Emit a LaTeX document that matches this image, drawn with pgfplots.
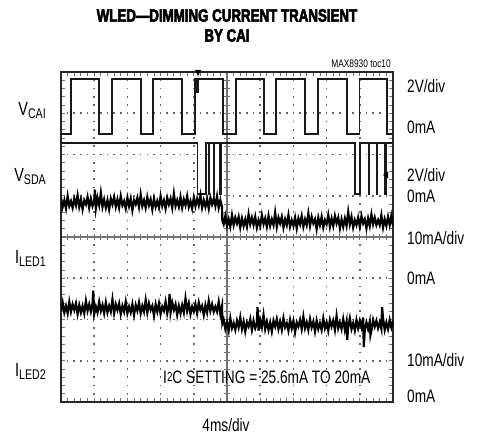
\documentclass[border=0pt]{standalone}
\usepackage{fontspec}
\setmainfont{Liberation Sans}[FakeStretch=0.76]
\newfontfamily\titlefont{Liberation Sans Bold}[FakeStretch=0.74,FakeBold=3]
\usepackage{pgfplots}
\pgfplotsset{compat=1.18}
\begin{document}
\begin{tikzpicture}[x=1bp,y=1bp,
  lab/.style={inner sep=0pt,font=\fontsize{18bp}{20bp}\selectfont},
  side/.style={inner sep=0pt,anchor=base east}]
\useasboundingbox (-61,-33) rectangle (418,402);
% graticule (dotted)
\foreach \i in {1,...,9}{\draw[black!60,line width=1.6bp,dash pattern=on 1.6bp off 6.65bp,dash phase=0.8bp] (\i*33.2,0) -- (\i*33.2,330);}
\foreach \j in {1,...,7}{\draw[black!60,line width=1.6bp,dash pattern=on 1.6bp off 5.04bp,dash phase=0.8bp] (0,\j*41.25) -- (332,\j*41.25);}
% centre lines with minor ticks
\draw[black!55,line width=1.1bp] (166,0)--(166,330);
\draw[black!55,line width=1.1bp] (0,165)--(332,165);
\foreach \k in {1,...,39}{\draw[black!55,line width=0.9bp] (163,\k*8.25)--(169,\k*8.25);
  \draw[black!55,line width=0.9bp] (0,\k*8.25)--(4,\k*8.25);
  \draw[black!55,line width=0.9bp] (328,\k*8.25)--(332,\k*8.25);}
\foreach \k in {1,...,49}{\draw[black!55,line width=0.9bp] (\k*6.64,162)--(\k*6.64,168);
  \draw[black!55,line width=0.9bp] (\k*6.64,0)--(\k*6.64,4);
  \draw[black!55,line width=0.9bp] (\k*6.64,326)--(\k*6.64,330);}
\begin{axis}[at={(0,0)},anchor=south west,scale only axis,width=332bp,height=330bp,
  xmin=0,xmax=10,ymin=0,ymax=8,ticks=none,
  axis line style={line width=2.6bp,black!85}]
% V_CAI
\addplot[black!90,line width=1.9bp,line join=miter] coordinates {(0,6.50)(0.30,6.50)(0.30,7.82)(1.15,7.82)(1.15,6.50)(1.53,6.50)(1.53,7.82)(2.40,7.82)(2.40,6.50)(2.78,6.50)(2.78,7.82)(3.65,7.82)(3.65,6.50)(4.04,6.50)(4.04,7.82)(4.09,7.82)(4.09,7.52)(4.14,7.52)(4.14,7.82)(4.88,7.82)(4.88,6.50)(5.26,6.50)(5.26,7.82)(6.11,7.82)(6.11,6.50)(6.48,6.50)(6.48,7.82)(7.35,7.82)(7.35,6.50)(7.75,6.50)(7.75,7.82)(8.61,7.82)(8.61,6.50)(8.99,6.50)(8.99,7.82)(9.83,7.82)(9.83,6.50)(10,6.50)};
% V_SDA
\addplot[black!90,line width=1.7bp,line join=miter] coordinates {(0,6.28)(4.11,6.28)(4.11,5.05)(4.37,5.05)(4.37,6.28)(4.44,6.28)(4.44,5.05)(4.46,5.05)(4.46,6.28)(4.59,6.28)(4.59,5.05)(4.61,5.05)(4.61,6.28)(4.79,6.28)(4.79,5.05)(4.81,5.05)(4.81,6.28)(8.86,6.28)(8.86,5.05)(9.00,5.05)(9.00,6.28)(9.26,6.28)(9.26,5.05)(9.28,5.05)(9.28,6.28)(9.51,6.28)(9.51,5.05)(9.53,5.05)(9.53,6.28)(9.76,6.28)(9.76,5.05)(9.78,5.05)(9.78,6.28)(10,6.28)};
% I_LED1
\addplot[black,line width=2.2bp] coordinates {(0.00,4.95)(0.05,4.73)(0.10,4.89)(0.15,4.69)(0.20,4.99)(0.25,4.75)(0.30,4.87)(0.35,4.71)(0.40,4.93)(0.45,4.77)(0.50,5.01)(0.55,4.73)(0.60,4.91)(0.65,4.67)(0.70,4.89)(0.75,4.79)(0.80,4.97)(0.85,4.71)(0.90,4.93)(0.95,4.75)(1.00,4.87)(1.02,5.15)(1.05,4.69)(1.10,4.95)(1.15,4.77)(1.20,5.07)(1.25,4.73)(1.30,4.91)(1.35,4.71)(1.40,4.89)(1.45,4.67)(1.50,4.93)(1.55,4.79)(1.60,4.97)(1.65,4.73)(1.70,4.91)(1.75,4.71)(1.80,4.99)(1.85,4.77)(1.90,4.87)(1.95,4.69)(2.00,4.95)(2.05,4.75)(2.10,4.93)(2.15,4.65)(2.20,4.89)(2.25,4.79)(2.30,4.95)(2.35,4.73)(2.40,5.03)(2.45,4.75)(2.50,4.89)(2.55,4.71)(2.60,4.97)(2.65,4.77)(2.70,4.91)(2.75,4.67)(2.80,4.93)(2.85,4.73)(2.90,4.87)(2.95,4.71)(3.00,4.99)(3.05,4.75)(3.10,4.89)(3.15,4.69)(3.20,4.95)(3.25,4.79)(3.30,4.93)(3.35,4.71)(3.40,5.05)(3.45,4.75)(3.50,4.89)(3.55,4.73)(3.60,4.97)(3.65,4.71)(3.70,4.91)(3.75,4.77)(3.80,4.99)(3.85,4.73)(3.90,4.87)(3.95,4.69)(4.00,4.95)(4.05,4.75)(4.10,4.93)(4.15,4.77)(4.20,5.01)(4.25,4.71)(4.30,4.89)(4.35,4.73)(4.40,4.91)(4.45,4.69)(4.50,4.95)(4.55,4.79)(4.60,4.93)(4.65,4.75)(4.70,4.99)(4.75,4.71)(4.80,4.89)(4.85,4.73)(4.86,4.40)(4.90,4.31)(4.95,4.51)(5.00,4.27)(5.05,4.43)(5.10,4.25)(5.15,4.53)(5.20,4.29)(5.25,4.47)(5.30,4.33)(5.35,4.49)(5.40,4.23)(5.45,4.45)(5.50,4.27)(5.55,4.43)(5.60,4.25)(5.65,4.55)(5.70,4.31)(5.75,4.47)(5.80,4.29)(5.85,4.49)(5.90,4.23)(5.95,4.41)(6.00,4.27)(6.05,4.53)(6.10,4.31)(6.15,4.45)(6.20,4.25)(6.25,4.51)(6.30,4.27)(6.35,4.43)(6.40,4.29)(6.45,4.59)(6.50,4.25)(6.55,4.47)(6.60,4.33)(6.65,4.49)(6.70,4.23)(6.75,4.43)(6.80,4.29)(6.85,4.53)(6.90,4.25)(6.95,4.41)(7.00,4.27)(7.05,4.47)(7.10,4.21)(7.15,4.45)(7.20,4.31)(7.25,4.51)(7.30,4.25)(7.35,4.43)(7.40,4.29)(7.45,4.57)(7.50,4.27)(7.55,4.49)(7.60,4.33)(7.65,4.43)(7.70,4.19)(7.75,4.47)(7.80,4.29)(7.85,4.49)(7.90,4.23)(7.95,4.41)(8.00,4.31)(8.05,4.53)(8.10,4.25)(8.15,4.45)(8.20,4.27)(8.25,4.51)(8.30,4.33)(8.35,4.47)(8.40,4.21)(8.45,4.43)(8.50,4.25)(8.55,4.45)(8.60,4.27)(8.65,4.61)(8.70,4.31)(8.75,4.49)(8.80,4.23)(8.85,4.41)(8.90,4.29)(8.95,4.47)(9.00,4.25)(9.05,4.51)(9.10,4.33)(9.15,4.43)(9.20,4.21)(9.25,4.45)(9.30,4.27)(9.35,4.55)(9.40,4.31)(9.45,4.47)(9.50,4.29)(9.55,4.41)(9.60,4.29)(9.65,4.53)(9.70,4.23)(9.75,4.43)(9.80,4.27)(9.85,4.49)(9.90,4.29)(9.95,4.51)(10.00,4.27)};
% I_LED2
\addplot[black,line width=2.2bp] coordinates {(0.00,2.21)(0.05,2.41)(0.10,2.17)(0.15,2.33)(0.20,2.15)(0.25,2.43)(0.30,2.19)(0.35,2.37)(0.40,2.23)(0.45,2.39)(0.50,2.13)(0.55,2.35)(0.60,2.17)(0.65,2.33)(0.70,2.15)(0.75,2.45)(0.80,2.21)(0.85,2.37)(0.90,2.19)(0.95,2.39)(0.97,2.70)(1.00,2.13)(1.05,2.31)(1.10,2.17)(1.15,2.43)(1.20,2.21)(1.25,2.35)(1.30,2.15)(1.35,2.41)(1.40,2.17)(1.45,2.33)(1.50,2.19)(1.55,2.49)(1.60,2.15)(1.65,2.37)(1.70,2.23)(1.75,2.39)(1.80,2.13)(1.85,2.33)(1.90,2.19)(1.95,2.43)(2.00,2.15)(2.05,2.31)(2.10,2.17)(2.15,2.37)(2.20,2.11)(2.25,2.35)(2.30,2.21)(2.35,2.41)(2.40,2.15)(2.45,2.33)(2.50,2.19)(2.55,2.47)(2.60,2.17)(2.65,2.39)(2.70,2.23)(2.75,2.33)(2.80,2.09)(2.85,2.37)(2.90,2.19)(2.95,2.39)(3.00,2.13)(3.05,2.31)(3.10,2.21)(3.15,2.43)(3.20,2.15)(3.25,2.35)(3.27,2.62)(3.30,2.17)(3.35,2.41)(3.40,2.23)(3.45,2.37)(3.50,2.11)(3.55,2.33)(3.60,2.15)(3.65,2.35)(3.70,2.17)(3.75,2.51)(3.80,2.21)(3.85,2.39)(3.90,2.13)(3.95,2.31)(4.00,2.19)(4.05,2.37)(4.10,2.15)(4.15,2.41)(4.20,2.23)(4.25,2.33)(4.30,2.11)(4.35,2.35)(4.40,2.17)(4.45,2.45)(4.50,2.21)(4.55,2.37)(4.60,2.19)(4.65,2.31)(4.70,2.19)(4.75,2.43)(4.80,2.13)(4.85,2.33)(4.86,1.90)(4.90,1.99)(4.95,1.77)(5.00,1.93)(5.05,1.73)(5.10,2.03)(5.15,1.79)(5.20,1.91)(5.25,1.75)(5.30,1.97)(5.35,1.81)(5.40,2.05)(5.45,1.77)(5.50,1.95)(5.55,1.71)(5.60,1.93)(5.65,1.83)(5.70,2.01)(5.75,1.75)(5.80,1.97)(5.85,1.79)(5.90,1.91)(5.92,2.30)(5.95,1.73)(6.00,1.99)(6.05,1.81)(6.10,2.11)(6.15,1.77)(6.20,1.95)(6.25,1.75)(6.30,1.93)(6.35,1.71)(6.40,1.97)(6.45,1.83)(6.50,2.01)(6.55,1.77)(6.60,1.95)(6.65,1.75)(6.70,2.03)(6.75,1.81)(6.80,1.91)(6.85,1.73)(6.90,1.99)(6.95,1.79)(7.00,1.97)(7.05,1.69)(7.10,1.93)(7.15,1.83)(7.20,1.99)(7.25,1.77)(7.30,2.07)(7.35,1.79)(7.40,1.93)(7.45,1.75)(7.50,2.01)(7.55,1.81)(7.60,1.95)(7.65,1.71)(7.70,1.97)(7.75,1.77)(7.80,1.91)(7.85,1.75)(7.90,2.03)(7.95,1.79)(8.00,1.93)(8.05,1.73)(8.10,1.99)(8.15,1.83)(8.20,1.97)(8.25,1.75)(8.30,2.09)(8.35,1.79)(8.40,1.93)(8.45,1.77)(8.50,2.01)(8.55,1.75)(8.60,1.95)(8.62,1.50)(8.65,1.81)(8.70,2.03)(8.75,1.77)(8.80,1.91)(8.85,1.73)(8.90,1.99)(8.95,1.79)(9.00,1.97)(9.05,1.81)(9.10,2.05)(9.12,1.33)(9.15,1.75)(9.20,1.93)(9.25,1.77)(9.30,1.95)(9.32,1.62)(9.35,1.73)(9.40,1.99)(9.45,1.83)(9.50,1.97)(9.55,1.79)(9.60,1.93)(9.65,1.77)(9.67,2.30)(9.70,2.03)(9.75,1.75)(9.80,1.93)(9.85,1.77)(9.90,1.99)(9.95,1.81)(10.00,1.97)};
\end{axis}
% trigger / level markers
\fill[black] (134.1,332) -- (140.1,332) -- (137.1,326) -- cycle;
\fill[black] (322,227) -- (327,230.5) -- (327,223.5) -- cycle;
% title
\node[inner sep=0pt,anchor=base,font=\titlefont\fontsize{18bp}{20bp}\selectfont] at (166,380.3) {WLED—DIMMING CURRENT TRANSIENT};
\node[inner sep=0pt,anchor=base,font=\titlefont\fontsize{18bp}{20bp}\selectfont] at (166,360.3) {BY CAI};
\node[inner sep=0pt,anchor=base east,font=\fontsize{11bp}{12bp}\selectfont] at (330,334) {MAX8930 toc10};
% left channel labels
\node[side,font=\fontsize{19bp}{20bp}\selectfont] at (-15,286) {V\raisebox{-2.5bp}{\fontsize{14bp}{14bp}\selectfont CAI}};
\node[side,font=\fontsize{19bp}{20bp}\selectfont] at (-15,220) {V\raisebox{-2.5bp}{\fontsize{14bp}{14bp}\selectfont SDA}};
\node[side,font=\fontsize{19bp}{20bp}\selectfont] at (-15,138) {I\raisebox{-2.5bp}{\fontsize{14bp}{14bp}\selectfont LED1}};
\node[side,font=\fontsize{19bp}{20bp}\selectfont] at (-15,25) {I\raisebox{-2.5bp}{\fontsize{14bp}{14bp}\selectfont LED2}};
% right scale labels
\node[lab,anchor=base west] at (346,309) {2V/div};
\node[lab,anchor=base west] at (346,268) {0mA};
\node[lab,anchor=base west] at (346,220) {2V/div};
\node[lab,anchor=base west] at (346,199) {0mA};
\node[lab,anchor=base west] at (346,157) {10mA/div};
\node[lab,anchor=base west] at (346,117) {0mA};
\node[lab,anchor=base west] at (346,35) {10mA/div};
\node[lab,anchor=base west] at (346,-1) {0mA};
% bottom label and annotation
\node[lab,anchor=base] at (165,-30) {4ms/div};
\node[lab,anchor=base west] at (102,18) {I\raisebox{2.5bp}{\fontsize{13bp}{13bp}\selectfont 2}C SETTING = 25.6mA TO 20mA};
\end{tikzpicture}
\end{document}
